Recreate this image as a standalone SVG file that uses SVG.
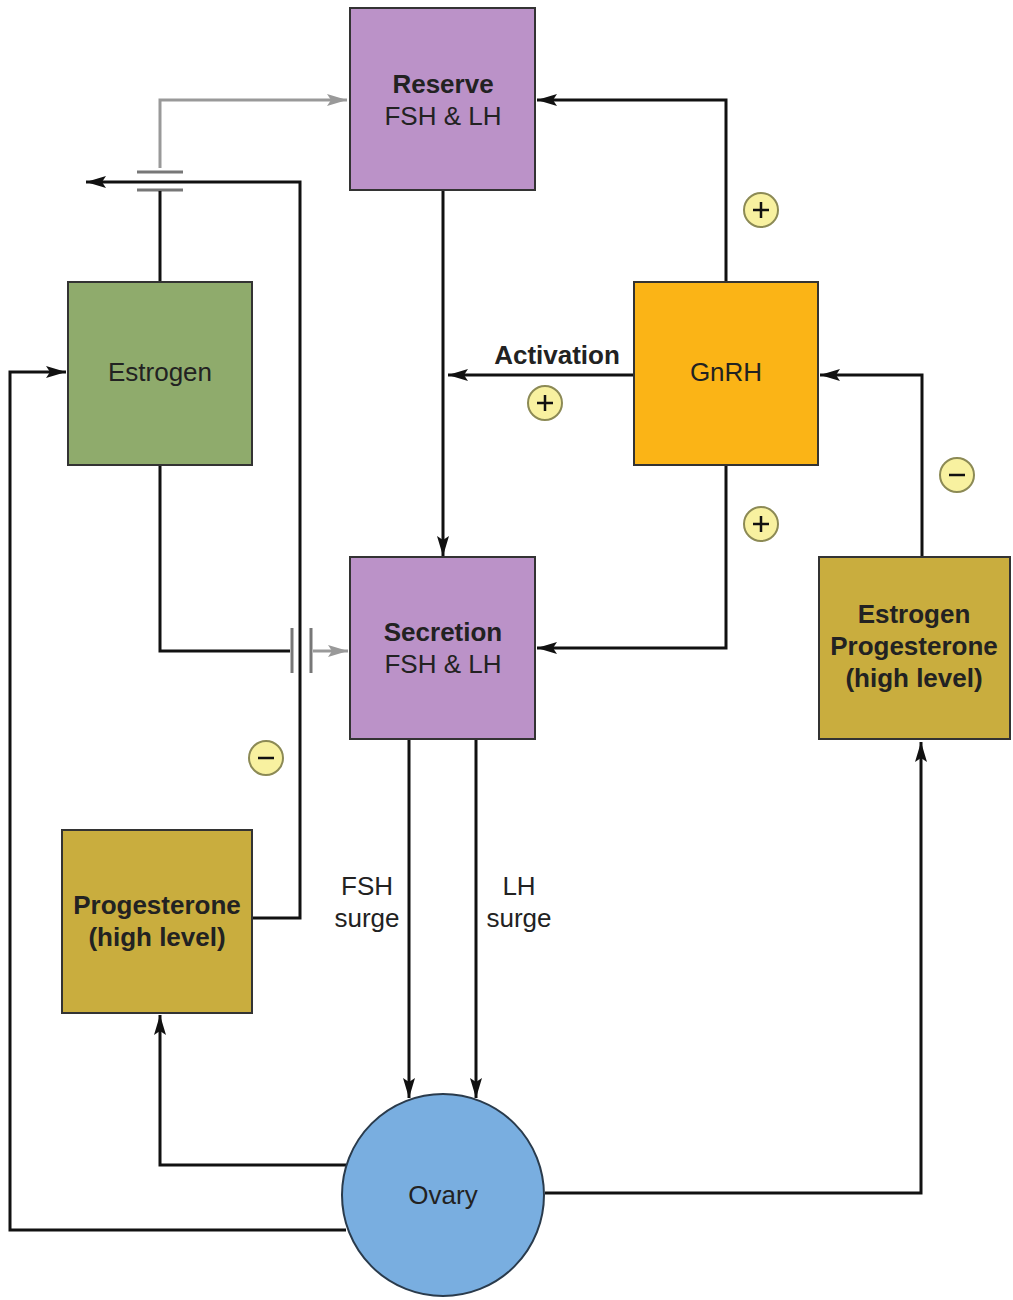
<svg xmlns="http://www.w3.org/2000/svg" width="1013" height="1300" viewBox="0 0 1013 1300">
<defs>
<marker id="ah" viewBox="0 0 20 12" refX="20" refY="6" markerWidth="20" markerHeight="12" markerUnits="userSpaceOnUse" orient="auto">
<path d="M0,0 L20,6 L0,12 L4,6 Z" fill="#111"/>
</marker>
<marker id="ahg" viewBox="0 0 20 12" refX="20" refY="6" markerWidth="20" markerHeight="12" markerUnits="userSpaceOnUse" orient="auto">
<path d="M0,0 L20,6 L0,12 L4,6 Z" fill="#999"/>
</marker>
<style>
.box{stroke:#333;stroke-width:2}
.t{font-family:"Liberation Sans",Arial,sans-serif;font-size:26px;fill:#222;text-anchor:middle}
.b{font-weight:bold}
.ln{fill:none;stroke:#111;stroke-width:3}
.lg{fill:none;stroke:#999;stroke-width:3}
.bar{stroke:#777;stroke-width:3}
.sg circle{fill:#f8f1a0;stroke:#8c8a55;stroke-width:2}
.sg path{stroke:#111;stroke-width:2.5;fill:none}
</style>
</defs>
<g id="connectors">
<path class="lg" d="M160,168 V100 H347" marker-end="url(#ahg)"/>
<line class="bar" x1="137" y1="172" x2="183" y2="172"/>
<line class="bar" x1="137" y1="190" x2="183" y2="190"/>
<path class="ln" d="M160,282 V191"/>
<path class="ln" d="M252,918 H300 V182 H86" marker-end="url(#ah)"/>
<path class="ln" d="M160,465 V651 H290"/>
<line class="bar" x1="292" y1="628" x2="292" y2="673"/>
<line class="bar" x1="311" y1="628" x2="311" y2="673"/>
<path class="lg" d="M313,651 H348" marker-end="url(#ahg)"/>
<path class="ln" d="M443,190 V556" marker-end="url(#ah)"/>
<path class="ln" d="M634,375 H448" marker-end="url(#ah)"/>
<path class="ln" d="M726,282 V100 H537" marker-end="url(#ah)"/>
<path class="ln" d="M726,465 V648 H537" marker-end="url(#ah)"/>
<path class="ln" d="M922,557 V375 H820" marker-end="url(#ah)"/>
<path class="ln" d="M409,739 V1098" marker-end="url(#ah)"/>
<path class="ln" d="M476,739 V1098" marker-end="url(#ah)"/>
<path class="ln" d="M346,1165 H160 V1015" marker-end="url(#ah)"/>
<path class="ln" d="M346,1230 H10 V372 H66" marker-end="url(#ah)"/>
<path class="ln" d="M545,1193 H921 V742" marker-end="url(#ah)"/>
</g>
<g id="reserve"><rect class="box" x="350" y="8" width="185" height="182" fill="#bb92c8"/>
<text class="t b" x="443" y="93">Reserve</text><text class="t" x="443" y="125">FSH &amp; LH</text></g>
<g id="secretion"><rect class="box" x="350" y="557" width="185" height="182" fill="#bb92c8"/>
<text class="t b" x="443" y="641">Secretion</text><text class="t" x="443" y="673">FSH &amp; LH</text></g>
<g id="estrogen"><rect class="box" x="68" y="282" width="184" height="183" fill="#8fab6c"/>
<text class="t" x="160" y="381">Estrogen</text></g>
<g id="gnrh"><rect class="box" x="634" y="282" width="184" height="183" fill="#fbb416"/>
<text class="t" x="726" y="381">GnRH</text></g>
<g id="estprog"><rect class="box" x="819" y="557" width="191" height="182" fill="#c9ad3e"/>
<text class="t b" x="914" y="623">Estrogen</text><text class="t b" x="914" y="655">Progesterone</text><text class="t b" x="914" y="687">(high level)</text></g>
<g id="progesterone"><rect class="box" x="62" y="830" width="190" height="183" fill="#c9ad3e"/>
<text class="t b" x="157" y="914">Progesterone</text><text class="t b" x="157" y="946">(high level)</text></g>
<g id="ovary"><circle cx="443" cy="1195" r="101" fill="#79aee0" stroke="#2a3b4c" stroke-width="2"/>
<text class="t" x="443" y="1204">Ovary</text></g>
<g id="labels">
<text class="t b" x="557" y="364">Activation</text>
<text class="t" x="367" y="895">FSH</text><text class="t" x="367" y="927">surge</text>
<text class="t" x="519" y="895">LH</text><text class="t" x="519" y="927">surge</text>
</g>
<g id="signs" class="sg">
<g><circle cx="761" cy="210" r="17"/><path d="M753,210 H769 M761,202 V218"/></g>
<g><circle cx="545" cy="403" r="17"/><path d="M537,403 H553 M545,395 V411"/></g>
<g><circle cx="761" cy="524" r="17"/><path d="M753,524 H769 M761,516 V532"/></g>
<g><circle cx="957" cy="475" r="17"/><path d="M949,475 H965"/></g>
<g><circle cx="266" cy="758" r="17"/><path d="M258,758 H274"/></g>
</g>
</svg>
